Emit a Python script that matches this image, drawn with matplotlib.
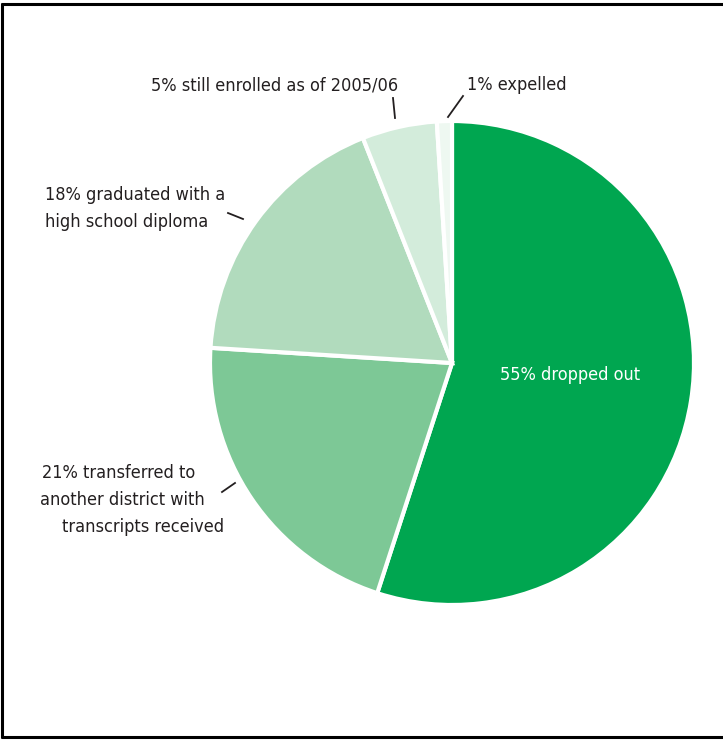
import matplotlib
matplotlib.use("Agg")
import matplotlib.pyplot as plt

plt.rcParams['font.family'] = ['DejaVu Sans']
plt.rcParams['font.stretch'] = 'condensed'

# share of students by outcome (clockwise from top)
categories = ["dropped out", "transferred", "graduated", "still enrolled", "expelled"]
shares = [55, 21, 18, 5, 1]
colors = ["#00a650", "#7dc896", "#b1dbbd", "#d3ecdb", "#eef8f1"]

label_lines = {
    "enrolled": ["5% still enrolled as of 2005/06"],
    "expelled": ["1% expelled"],
    "graduated": ["18% graduated with a", "high school diploma"],
    "transferred": ["21% transferred to", "another district with", "transcripts received"],
}

W, H = 723, 740
fig = plt.figure(figsize=(W / 100, H / 100), dpi=100)

# pie axes, centre at (452, 363) px, radius 242 px
cx, cy, r = 452, 363, 242
ax = fig.add_axes([(cx - r) / W, (H - cy - r) / H, 2 * r / W, 2 * r / H])
ax.pie(shares, colors=colors, startangle=90, counterclock=False, radius=1,
       wedgeprops=dict(edgecolor="white", linewidth=3))
ax.set_xlim(-1, 1)
ax.set_ylim(-1, 1)
ax.set_aspect("equal")
ax.axis("off")

# overlay in pixel coords for labels, leaders and frame
ov = fig.add_axes([0, 0, 1, 1], facecolor="none")
ov.set_xlim(0, W)
ov.set_ylim(H, 0)
ov.axis("off")

txt = dict(fontsize=13, color="#231f20", va="baseline", fontstretch="condensed")
ov.text(398, 90, label_lines["enrolled"][0], ha="right", **txt)
ov.text(467, 90, label_lines["expelled"][0], ha="left", **txt)
for i, line in enumerate(label_lines["graduated"]):
    ov.text(45, 200 + i * 27, line, ha="left", **txt)
for x0, (i, line) in zip([42, 40, 62], enumerate(label_lines["transferred"])):
    ov.text(x0, 478 + i * 27, line, ha="left", **txt)
ov.text(570, 380, "55% dropped out", ha="center", fontsize=13, color="white",
        va="baseline", fontstretch="condensed")

lk = dict(color="#231f20", lw=1.3)
ov.plot([393, 395], [98, 118], **lk)
ov.plot([448, 463], [117, 96], **lk)
ov.plot([228, 243], [213, 219], **lk)
ov.plot([222, 235], [492, 483], **lk)

# frame (left, top, bottom)
fk = dict(color="black", lw=2.2, solid_capstyle="butt")
ov.plot([2, 2], [3, 738], **fk)
ov.plot([1, W], [4, 4], **fk)
ov.plot([1, W], [737, 737], **fk)

fig.savefig("out.png", dpi=100)
